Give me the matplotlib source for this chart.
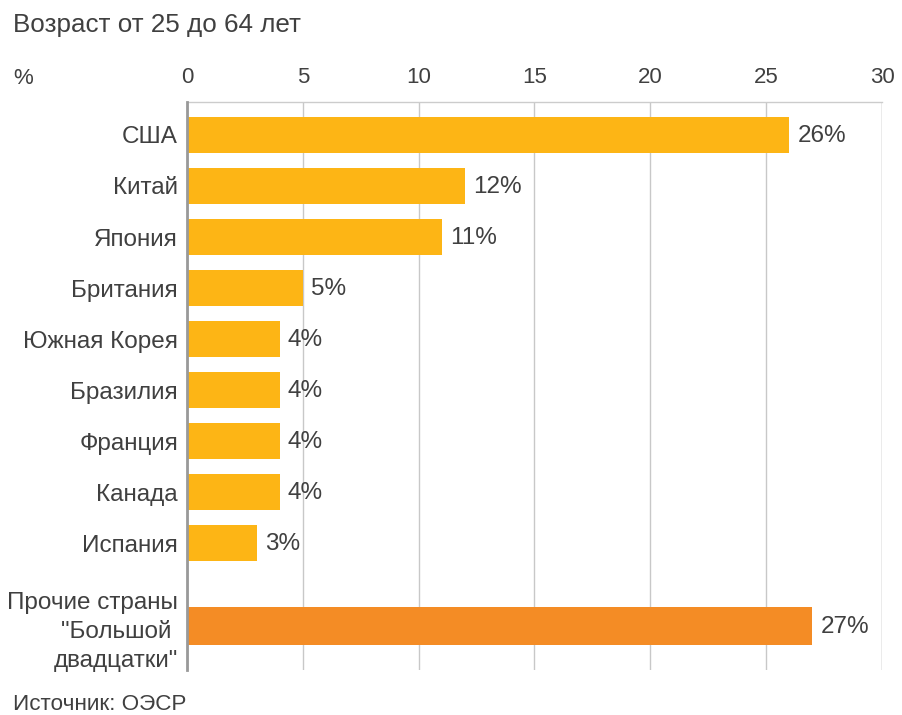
import matplotlib
matplotlib.use("Agg")
import matplotlib.pyplot as plt

plt.rcParams['font.family'] = ['Liberation Sans', 'DejaVu Sans']

categories = ["США", "Китай", "Япония", "Британия", "Южная Корея", "Бразилия",
              "Франция", "Канада", "Испания", "Прочие страны\n\"Большой \nдвадцатки\""]
values = [26, 12, 11, 5, 4, 4, 4, 4, 3, 27]
value_labels = ["26%", "12%", "11%", "5%", "4%", "4%", "4%", "4%", "3%", "27%"]
positions = [0, 1, 2, 3, 4, 5, 6, 7, 8, 9.63]
xticks = [0, 5, 10, 15, 20, 25, 30]

title = "Возраст от 25 до 64 лет"
unit = "%"
source = "Источник: ОЭСР"

text_color = "#404040"
bar_color = "#FDB515"
other_color = "#F48C25"

fig = plt.figure(figsize=(9.03, 7.15), dpi=100)
ax = fig.add_axes([187/903, 1-670/715, 695/903, 568/715])

colors = [bar_color]*9 + [other_color]
heights = [0.71]*9 + [0.75]
ax.barh(positions, values, height=heights, color=colors, zorder=3)

for p, v, lab in zip(positions, values, value_labels):
    ax.text(v + 0.35, p + 0.02, lab, va='center', ha='left', fontsize=17.5, color=text_color)

ax.set_xlim(0, 30)
ax.set_ylim(10.49, -0.647)
ax.set_xticks(xticks)
ax.set_xticklabels([str(t) for t in xticks], fontsize=16, color=text_color)
ax.xaxis.tick_top()
ax.tick_params(axis='x', length=0, pad=10)
ax.set_yticks(positions)
ax.set_yticklabels(categories, fontsize=17.5, color=text_color, linespacing=1.4)
ax.tick_params(axis='y', length=0, pad=6.5)

ax.grid(axis='x', color='#c8c8c8', linewidth=1.0, zorder=0)
for s in ['top', 'right', 'bottom']:
    ax.spines[s].set_visible(False)
ax.spines['top'].set_visible(True)
ax.spines['top'].set_color('#cccccc')
ax.spines['top'].set_linestyle((0, (3, 1)))
ax.spines['top'].set_linewidth(1.0)
ax.spines['left'].set_color('#999999')
ax.spines['left'].set_linewidth(2.0)
ax.spines['left'].set_zorder(4)
ax.axvline(30, color='#c8c8c8', linewidth=1.0, zorder=0)

fig.text(13/903, 1-25/715, title, fontsize=18.7, color=text_color, va='center', ha='left')
fig.text(13/903, 1-78/715, unit, fontsize=16, color=text_color, va='center', ha='left')
fig.text(13/903, 1-704/715, source, fontsize=16.2, color=text_color, va='center', ha='left')

fig.savefig("out.png", dpi=100)
